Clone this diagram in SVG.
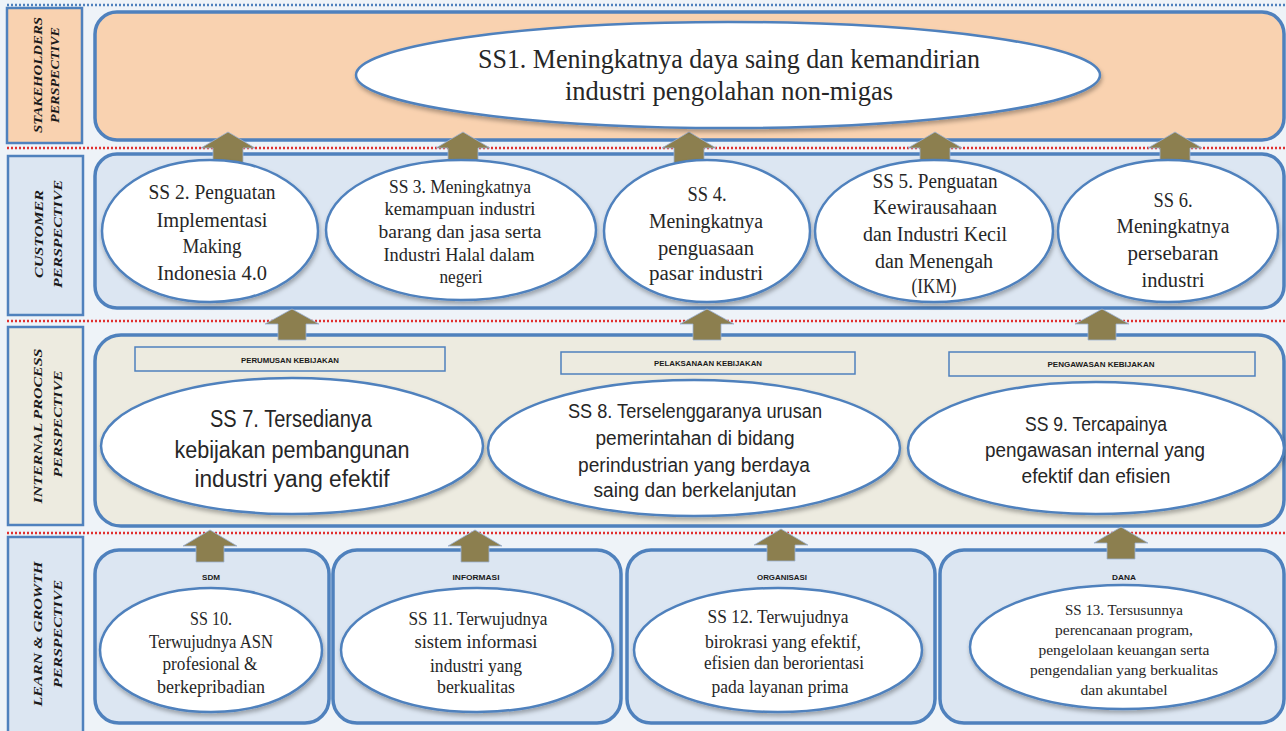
<svg xmlns="http://www.w3.org/2000/svg" width="1286" height="731" viewBox="0 0 1286 731">
<defs>
<style>
.pan{stroke:#4f81bd;stroke-width:3.5}
.lab{stroke:#4f81bd;stroke-width:2.5}
.peach{fill:#f9d2b0}
.blue{fill:#dce6f2}
.beige{fill:#edebe0}
.ell{fill:#ffffff;stroke:#4f81bd;stroke-width:2.5}
.sbox{fill:#edebe0;stroke:#4f81bd;stroke-width:1.5}
.ser{font-family:"Liberation Serif","Times New Roman",serif;fill:#262626;text-anchor:middle}
.san{font-family:"Liberation Sans",Arial,sans-serif;fill:#262626;text-anchor:middle}
.vt{font-family:"Liberation Serif","Times New Roman",serif;font-weight:bold;font-style:italic;font-size:13px;fill:#1a1a1a;text-anchor:middle}
.tiny{font-family:"Liberation Sans",Arial,sans-serif;font-weight:bold;font-size:8px;fill:#1a1a1a;text-anchor:middle}
.arr{fill:#8c7f4f;stroke:#9db3d4;stroke-width:0.8}
.red{stroke:#e03030;stroke-width:2.5;stroke-dasharray:2 2;fill:none}
.bdot{stroke:#4f81bd;stroke-width:2.5;stroke-dasharray:2 2;fill:none}
</style>
<filter id="sh" x="-10%" y="-10%" width="120%" height="130%">
<feDropShadow dx="1" dy="3" stdDeviation="2" flood-color="#000" flood-opacity="0.3"/>
</filter>
</defs>
<rect x="0" y="0" width="1286" height="731" fill="#eef3f8"/>
<line class="bdot" x1="7" y1="5" x2="1286" y2="5"/>
<line class="red" x1="7" y1="148" x2="1286" y2="148"/>
<line class="red" x1="7" y1="321" x2="1286" y2="321"/>
<line class="red" x1="7" y1="533" x2="1286" y2="533"/>

<g id="perspective-labels">
<rect class="lab peach" x="7" y="8" width="75" height="135"/>
<text class="vt" transform="translate(42,75) rotate(-90)" textLength="116" lengthAdjust="spacingAndGlyphs">STAKEHOLDERS</text>
<text class="vt" transform="translate(59,75) rotate(-90)" textLength="96" lengthAdjust="spacingAndGlyphs">PERSPECTIVE</text>
<rect class="lab blue" x="8" y="156" width="75" height="159"/>
<text class="vt" transform="translate(43,234) rotate(-90)" textLength="88" lengthAdjust="spacingAndGlyphs">CUSTOMER</text>
<text class="vt" transform="translate(62,234) rotate(-90)" textLength="108" lengthAdjust="spacingAndGlyphs">PERSPECTIVE</text>
<rect class="lab beige" x="8" y="327" width="75" height="198"/>
<text class="vt" transform="translate(42,426) rotate(-90)" textLength="155" lengthAdjust="spacingAndGlyphs">INTERNAL PROCESS</text>
<text class="vt" transform="translate(62,424) rotate(-90)" textLength="107" lengthAdjust="spacingAndGlyphs">PERSPECTIVE</text>
<rect class="lab blue" x="8" y="537" width="75" height="200"/>
<text class="vt" transform="translate(42,634) rotate(-90)" textLength="145" lengthAdjust="spacingAndGlyphs">LEARN &amp; GROWTH</text>
<text class="vt" transform="translate(62,634) rotate(-90)" textLength="108" lengthAdjust="spacingAndGlyphs">PERSPECTIVE</text>
</g>

<g id="panels">
<rect class="pan peach" x="95" y="12" width="1189" height="128" rx="22"/>
<rect class="pan blue" x="95" y="154" width="1189" height="154" rx="22"/>
<rect class="pan beige" x="95" y="335" width="1189" height="191" rx="26"/>
<rect class="pan blue" x="95" y="550" width="234" height="173" rx="24"/>
<rect class="pan blue" x="333" y="550" width="288" height="173" rx="24"/>
<rect class="pan blue" x="627" y="550" width="308" height="173" rx="24"/>
<rect class="pan blue" x="940" y="550" width="344" height="173" rx="24"/>
</g>

<g id="connectors">
<path class="arr" d="M228,132 L255,148 L243,148 L243,163 L213,163 L213,148 L201,148 Z"/>
<path class="arr" d="M463,132 L490,148 L478,148 L478,163 L448,163 L448,148 L436,148 Z"/>
<path class="arr" d="M689,132 L716,148 L704,148 L704,163 L674,163 L674,148 L662,148 Z"/>
<path class="arr" d="M935,132 L962,148 L950,148 L950,163 L920,163 L920,148 L908,148 Z"/>
<path class="arr" d="M1175,132 L1202,148 L1190,148 L1190,163 L1160,163 L1160,148 L1148,148 Z"/>
<path class="arr" d="M292,309 L319,324 L306,324 L306,340 L278,340 L278,324 L265,324 Z"/>
<path class="arr" d="M707,309 L734,324 L721,324 L721,340 L693,340 L693,324 L680,324 Z"/>
<path class="arr" d="M1102,309 L1129,324 L1116,324 L1116,340 L1088,340 L1088,324 L1075,324 Z"/>
<path class="arr" d="M210,530 L237,546 L224,546 L224,562 L196,562 L196,546 L183,546 Z"/>
<path class="arr" d="M475,530 L502,546 L489,546 L489,562 L461,562 L461,546 L448,546 Z"/>
<path class="arr" d="M781,529 L808,545 L795,545 L795,561 L767,561 L767,545 L754,545 Z"/>
<path class="arr" d="M1121,527 L1148,543 L1135,543 L1135,559 L1107,559 L1107,543 L1094,543 Z"/>
</g>

<g id="ss1">
<ellipse class="ell" filter="url(#sh)" cx="728" cy="75" rx="372" ry="53"/>
<text class="ser" font-size="27"><tspan x="729" y="68" textLength="502" lengthAdjust="spacingAndGlyphs">SS1. Meningkatnya daya saing dan kemandirian</tspan><tspan x="729" y="100" textLength="328" lengthAdjust="spacingAndGlyphs">industri pengolahan non-migas</tspan></text>
</g>

<g id="ss2">
<ellipse class="ell" filter="url(#sh)" cx="210" cy="231" rx="108" ry="71"/>
<text class="ser" font-size="21"><tspan x="212" y="199" textLength="127" lengthAdjust="spacingAndGlyphs">SS 2. Penguatan</tspan><tspan x="212" y="227" textLength="111" lengthAdjust="spacingAndGlyphs">Implementasi</tspan><tspan x="212" y="253" textLength="59" lengthAdjust="spacingAndGlyphs">Making</tspan><tspan x="212" y="280" textLength="110" lengthAdjust="spacingAndGlyphs">Indonesia  4.0</tspan></text>
</g>

<g id="ss3">
<ellipse class="ell" filter="url(#sh)" cx="461" cy="230" rx="135" ry="70"/>
<text class="ser" font-size="18"><tspan x="460" y="193" textLength="142" lengthAdjust="spacingAndGlyphs">SS 3. Meningkatnya</tspan><tspan x="460" y="215" textLength="151" lengthAdjust="spacingAndGlyphs">kemampuan industri</tspan><tspan x="460" y="238" textLength="163" lengthAdjust="spacingAndGlyphs">barang dan jasa serta</tspan><tspan x="459" y="261" textLength="151" lengthAdjust="spacingAndGlyphs">Industri Halal dalam</tspan><tspan x="461" y="283" textLength="43" lengthAdjust="spacingAndGlyphs">negeri</tspan></text>
</g>

<g id="ss4">
<ellipse class="ell" filter="url(#sh)" cx="707" cy="231" rx="103" ry="71"/>
<text class="ser" font-size="20"><tspan x="707" y="201" textLength="39" lengthAdjust="spacingAndGlyphs">SS 4.</tspan><tspan x="706" y="228" textLength="114" lengthAdjust="spacingAndGlyphs">Meningkatnya</tspan><tspan x="706" y="255" textLength="96" lengthAdjust="spacingAndGlyphs">penguasaan</tspan><tspan x="706" y="280" textLength="114" lengthAdjust="spacingAndGlyphs">pasar industri</tspan></text>
</g>

<g id="ss5">
<ellipse class="ell" filter="url(#sh)" cx="934" cy="231" rx="119" ry="71"/>
<text class="ser" font-size="20"><tspan x="935" y="188" textLength="125" lengthAdjust="spacingAndGlyphs">SS 5. Penguatan</tspan><tspan x="935" y="214" textLength="124" lengthAdjust="spacingAndGlyphs">Kewirausahaan</tspan><tspan x="935" y="241" textLength="144" lengthAdjust="spacingAndGlyphs">dan Industri Kecil</tspan><tspan x="934" y="268" textLength="118" lengthAdjust="spacingAndGlyphs">dan Menengah</tspan><tspan x="934" y="293" textLength="45" lengthAdjust="spacingAndGlyphs">(IKM)</tspan></text>
</g>

<g id="ss6">
<ellipse class="ell" filter="url(#sh)" cx="1168" cy="231" rx="110" ry="71"/>
<text class="ser" font-size="20"><tspan x="1173" y="207" textLength="39" lengthAdjust="spacingAndGlyphs">SS 6.</tspan><tspan x="1173" y="233" textLength="113" lengthAdjust="spacingAndGlyphs">Meningkatnya</tspan><tspan x="1173" y="260" textLength="91" lengthAdjust="spacingAndGlyphs">persebaran</tspan><tspan x="1173" y="287" textLength="63" lengthAdjust="spacingAndGlyphs">industri</tspan></text>
</g>

<g id="internal-labels">
<rect class="sbox" x="135" y="347" width="310" height="24"/>
<text class="tiny" x="290" y="363" textLength="98" lengthAdjust="spacingAndGlyphs">PERUMUSAN KEBIJAKAN</text>
<rect class="sbox" x="561" y="352" width="294" height="22"/>
<text class="tiny" x="708" y="366" textLength="108" lengthAdjust="spacingAndGlyphs">PELAKSANAAN KEBIJAKAN</text>
<rect class="sbox" x="949" y="352" width="306" height="24"/>
<text class="tiny" x="1101" y="367" textLength="107" lengthAdjust="spacingAndGlyphs">PENGAWASAN KEBIJAKAN</text>
</g>

<g id="ss7">
<ellipse class="ell" filter="url(#sh)" cx="292" cy="446" rx="191" ry="68"/>
<text class="san" font-size="23"><tspan x="291" y="427" textLength="162" lengthAdjust="spacingAndGlyphs">SS 7. Tersedianya</tspan><tspan x="292" y="458" textLength="235" lengthAdjust="spacingAndGlyphs">kebijakan  pembangunan</tspan><tspan x="292" y="487" textLength="195" lengthAdjust="spacingAndGlyphs">industri yang  efektif</tspan></text>
</g>

<g id="ss8">
<ellipse class="ell" filter="url(#sh)" cx="694" cy="448" rx="206" ry="68"/>
<text class="san" font-size="20"><tspan x="695" y="418" textLength="254" lengthAdjust="spacingAndGlyphs">SS 8. Terselenggaranya  urusan</tspan><tspan x="695" y="445" textLength="199" lengthAdjust="spacingAndGlyphs">pemerintahan di bidang</tspan><tspan x="694" y="472" textLength="232" lengthAdjust="spacingAndGlyphs">perindustrian yang berdaya</tspan><tspan x="695" y="497" textLength="203" lengthAdjust="spacingAndGlyphs">saing dan berkelanjutan</tspan></text>
</g>

<g id="ss9">
<ellipse class="ell" filter="url(#sh)" cx="1096" cy="448" rx="188" ry="66"/>
<text class="san" font-size="20"><tspan x="1096" y="431" textLength="142" lengthAdjust="spacingAndGlyphs">SS 9. Tercapainya</tspan><tspan x="1095" y="457" textLength="220" lengthAdjust="spacingAndGlyphs">pengawasan internal yang</tspan><tspan x="1096" y="483" textLength="149" lengthAdjust="spacingAndGlyphs">efektif dan efisien</tspan></text>
</g>

<g id="learn-labels">
<text class="tiny" x="211" y="580" textLength="18" lengthAdjust="spacingAndGlyphs">SDM</text>
<text class="tiny" x="476" y="580" textLength="47" lengthAdjust="spacingAndGlyphs">INFORMASI</text>
<text class="tiny" x="782" y="580" textLength="50" lengthAdjust="spacingAndGlyphs">ORGANISASI</text>
<text class="tiny" x="1124" y="580" textLength="24" lengthAdjust="spacingAndGlyphs">DANA</text>
</g>

<g id="ss10">
<ellipse class="ell" filter="url(#sh)" cx="211" cy="650" rx="111" ry="62"/>
<text class="ser" font-size="18"><tspan x="211" y="625" textLength="42" lengthAdjust="spacingAndGlyphs">SS 10.</tspan><tspan x="211" y="648" textLength="124" lengthAdjust="spacingAndGlyphs">Terwujudnya ASN</tspan><tspan x="210" y="670" textLength="95" lengthAdjust="spacingAndGlyphs">profesional &amp;</tspan><tspan x="211" y="693" textLength="108" lengthAdjust="spacingAndGlyphs">berkepribadian</tspan></text>
</g>

<g id="ss11">
<ellipse class="ell" filter="url(#sh)" cx="477" cy="650" rx="136" ry="62"/>
<text class="ser" font-size="18"><tspan x="478" y="625" textLength="139" lengthAdjust="spacingAndGlyphs">SS 11. Terwujudnya</tspan><tspan x="476" y="648" textLength="123" lengthAdjust="spacingAndGlyphs">sistem informasi</tspan><tspan x="476" y="672" textLength="92" lengthAdjust="spacingAndGlyphs">industri yang</tspan><tspan x="476" y="693" textLength="78" lengthAdjust="spacingAndGlyphs">berkualitas</tspan></text>
</g>

<g id="ss12">
<ellipse class="ell" filter="url(#sh)" cx="778" cy="650" rx="144" ry="62"/>
<text class="ser" font-size="18"><tspan x="778" y="623" textLength="141" lengthAdjust="spacingAndGlyphs">SS  12. Terwujudnya</tspan><tspan x="783" y="648" textLength="156" lengthAdjust="spacingAndGlyphs">birokrasi yang efektif,</tspan><tspan x="784" y="669" textLength="160" lengthAdjust="spacingAndGlyphs">efisien dan berorientasi</tspan><tspan x="780" y="693" textLength="137" lengthAdjust="spacingAndGlyphs">pada layanan prima</tspan></text>
</g>

<g id="ss13">
<ellipse class="ell" filter="url(#sh)" cx="1123" cy="647" rx="153" ry="62"/>
<text class="ser" font-size="15"><tspan x="1124" y="615" textLength="118" lengthAdjust="spacingAndGlyphs">SS 13. Tersusunnya</tspan><tspan x="1124" y="635" textLength="138" lengthAdjust="spacingAndGlyphs">perencanaan program,</tspan><tspan x="1124" y="655" textLength="171" lengthAdjust="spacingAndGlyphs">pengelolaan keuangan serta</tspan><tspan x="1124" y="675" textLength="188" lengthAdjust="spacingAndGlyphs">pengendalian yang berkualitas</tspan><tspan x="1124" y="695" textLength="87" lengthAdjust="spacingAndGlyphs">dan akuntabel</tspan></text>
</g>
</svg>
